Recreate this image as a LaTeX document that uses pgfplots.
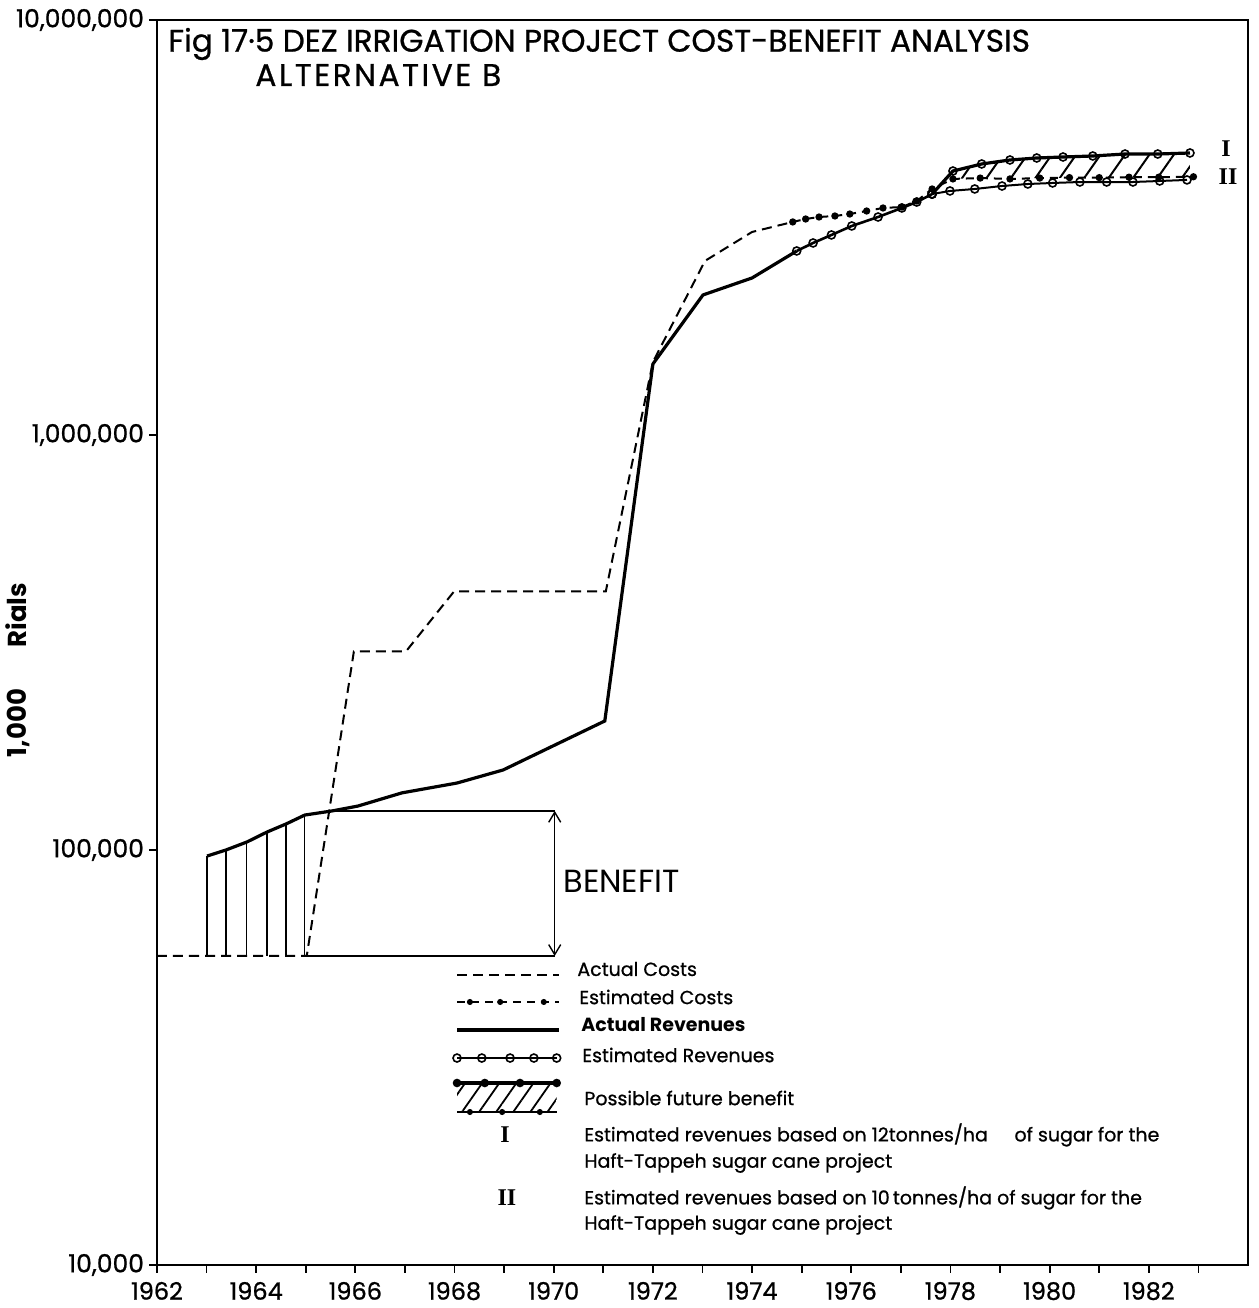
\documentclass[border=0pt]{standalone}
\usepackage{pgfplots}
\pgfplotsset{compat=1.18}
\usepgfplotslibrary{fillbetween}
\usetikzlibrary{patterns.meta,arrows.meta}
\usepackage{fontspec}
\setmainfont{Poppins}
\newfontface\medium{Poppins}[FakeBold=0.8]
\newfontfamily\serifrm{Liberation Serif}
\begin{document}
\begin{tikzpicture}
\begin{axis}[
  scale only axis, width=545.5pt, height=622.5pt,
  xmin=1962, xmax=1984, ymode=log, ymin=1e4, ymax=1e7,
  axis line style={line width=1.3pt},
  xtick={1962,1964,...,1982},
  xticklabels={1962,1964,1966,1968,1970,1972,1974,1976,1978,1980,1982},
  minor xtick={1963,1965,...,1983},
  ytick={1e4,1e5,1e6,1e7},
  yticklabels={{10,000},{100,000},{1,000,000},{10,000,000}},
  yminorticks=false,
  tick align=outside, xtick pos=bottom, ytick pos=left,
  major tick length=4pt, minor tick length=4pt,
  tick style={line width=0.9pt, black},
  yticklabel style={font=\medium\fontsize{12.5}{14}\selectfont, xshift=1pt},
  xticklabel style={font=\medium\fontsize{12}{14}\selectfont, yshift=-1pt},
  clip=false,
]
% Actual costs
\addplot[black, line width=1pt, dash pattern=on 5pt off 3pt] coordinates {
 (1962,55550) (1965.02,55550) (1965.97,300900) (1967.02,300900) (1967.99,419800)
 (1971.05,419800) (1972.0,1499000) (1973.05,2627000) (1974.0,3085000) (1974.82,3261000)};
% Estimated costs
\addplot[black, line width=1pt, dash pattern=on 4pt off 3pt, mark=*, mark size=1.3pt, mark options={solid}] coordinates {
 (1974.82,3261000) (1975.08,3315000) (1975.35,3352000) (1975.67,3371000) (1975.97,3408000)
 (1976.31,3465000) (1976.64,3524000) (1977.02,3543000) (1977.32,3663000) (1977.63,3916000)
 (1978.05,4140000) (1978.6,4160000) (1979.2,4140000) (1979.8,4160000) (1980.4,4170000)
 (1981.0,4170000) (1981.6,4180000) (1982.2,4180000) (1982.9,4190000)};
% Actual revenues
\addplot[black, line width=1.6pt] coordinates {
 (1963.01,96700) (1963.39,100000) (1963.81,104500) (1964.22,110500) (1964.60,115500)
 (1964.98,121400) (1965.53,124200) (1966.05,127600) (1966.94,137300) (1968.05,145000)
 (1968.98,155900) (1971.03,204600) (1972.0,1483000) (1973.01,2175000) (1974.0,2390000)
 (1974.9,2776000)};
% Possible future benefit (hatched region between revenues I and estimated costs)
\addplot[draw=none, name path=hA] coordinates {
 (1977.85,4060000) (1978.05,4326000) (1978.63,4498000) (1979.2,4599000) (1979.74,4650000)
 (1980.27,4676000) (1980.87,4702000) (1981.52,4754000) (1982.18,4754000) (1982.83,4781000)};
\addplot[draw=none, name path=hB] coordinates {
 (1977.85,4060000) (1978.05,4140000) (1978.6,4160000) (1979.2,4140000) (1979.8,4160000)
 (1980.4,4170000) (1981.0,4170000) (1981.6,4180000) (1982.2,4180000) (1982.83,4190000)};
\addplot[pattern={Lines[angle=55,distance=10pt,line width=1pt]}, draw=none] fill between[of=hA and hB];
% Estimated revenues (common part)
\addplot[black, line width=1.3pt, mark=o, mark size=2pt, mark options={fill=white, line width=0.8pt}] coordinates {
 (1974.9,2776000) (1975.23,2902000) (1975.6,3034000) (1976.01,3189000) (1976.54,3352000)
 (1977.02,3524000) (1977.32,3642000) (1977.63,3807000)};
% Estimated revenues I
\addplot[black, line width=1.6pt, mark=o, mark size=2pt, mark options={fill=white, line width=0.8pt}] coordinates {
 (1977.63,3807000) (1978.05,4326000) (1978.63,4498000) (1979.2,4599000) (1979.74,4650000)
 (1980.27,4676000) (1980.87,4702000) (1981.52,4754000) (1982.18,4754000) (1982.83,4781000)};
% Estimated revenues II
\addplot[black, line width=1pt, mark=o, mark size=2pt, mark options={fill=white, line width=0.8pt}] coordinates {
 (1977.63,3807000) (1977.99,3873000) (1978.49,3916000) (1979.04,3981000) (1979.56,4025000)
 (1980.06,4048000) (1980.61,4070000) (1981.15,4070000) (1981.68,4070000) (1982.22,4093000)
 (1982.77,4117000)};
% benefit verticals
\addplot[black, line width=0.6pt] coordinates {(1963.01,55550) (1963.01,96700)};
\addplot[black, line width=0.6pt] coordinates {(1963.39,55550) (1963.39,100000)};
\addplot[black, line width=0.6pt] coordinates {(1963.81,55550) (1963.81,104500)};
\addplot[black, line width=0.6pt] coordinates {(1964.22,55550) (1964.22,110500)};
\addplot[black, line width=0.6pt] coordinates {(1964.60,55550) (1964.60,115500)};
\addplot[black, line width=0.6pt] coordinates {(1964.98,55550) (1964.98,121400)};
% benefit bracket
\addplot[black, line width=0.7pt] coordinates {(1965.53,124200) (1970.02,124200)};
\addplot[black, line width=0.7pt] coordinates {(1965.02,55550) (1970.02,55550)};
\addplot[black, line width=0.7pt, {Straight Barb[length=5pt,width=6pt]}-{Straight Barb[length=5pt,width=6pt]}] coordinates {(1970.02,55550) (1970.02,124200)};
% legend samples
\addplot[black, line width=1pt, dash pattern=on 5pt off 3pt] coordinates {(1968.05,49960) (1970.10,49960)};
\addplot[black, line width=1pt, dash pattern=on 4pt off 3pt] coordinates {(1968.05,43030) (1970.10,43030)};
\addplot[black, only marks, mark=*, mark size=1.3pt] coordinates {(1968.31,43030) (1968.92,43030) (1969.80,43030)};
\addplot[black, line width=1.6pt] coordinates {(1968.05,36840) (1970.10,36840)};
\addplot[black, line width=1.3pt, mark=o, mark size=2pt, mark options={fill=white, line width=0.8pt}] coordinates {(1968.05,31530) (1968.55,31530) (1969.12,31530) (1969.60,31530) (1970.06,31530)};
\addplot[black, line width=1.6pt, mark=*, mark size=1.3pt, name path=lgtop] coordinates {(1968.05,27450) (1968.61,27450) (1969.32,27450) (1970.06,27450)};
\addplot[black, line width=1pt, name path=lgbot] coordinates {(1968.05,23370) (1970.06,23370)};
\addplot[black, only marks, mark=*, mark size=1.3pt] coordinates {(1968.31,23370) (1968.96,23370) (1969.72,23370)};
\addplot[pattern={Lines[angle=55,distance=7pt,line width=0.9pt]}, draw=none] fill between[of=lgtop and lgbot];
\end{axis}
% texts
\newcommand{\T}[3]{\node[anchor=west, inner sep=0pt] at ([xshift=#1pt,yshift=#2pt]current axis.south west) {#3};}
\node[anchor=west, inner sep=0pt, font=\medium\fontsize{15.6}{18}\selectfont] at ([xshift=5.5pt,yshift=610.5pt]current axis.south west) {Fig 17·5 DEZ IRRIGATION PROJECT COST-BENEFIT ANALYSIS};
\node[anchor=west, inner sep=0pt, font=\medium\fontsize{15.6}{18}\selectfont\addfontfeatures{LetterSpace=8}] at ([xshift=49pt,yshift=595pt]current axis.south west) {ALTERNATIVE B};
\node[rotate=90, inner sep=0pt, font=\fontsize{13}{15}\selectfont] at ([xshift=-69.5pt,yshift=297.5pt]current axis.south west) {\textbf{1,000\hspace{1.6em}Rials}};
\node[anchor=west, inner sep=0pt, font=\fontsize{16}{18}\selectfont] at ([xshift=203pt,yshift=192pt]current axis.south west) {BENEFIT};
\begin{scope}[font=\medium\fontsize{9.5}{11}\selectfont]
\T{210}{148}{Actual Costs}
\T{211}{134}{Estimated Costs}
\T{212}{120}{\normalfont\fontsize{9.5}{11}\selectfont\bfseries Actual Revenues}
\T{212.5}{105}{Estimated Revenues}
\T{213.5}{83.5}{Possible future benefit}
\T{213.5}{65}{Estimated revenues based on 12tonnes/ha\hspace{1.4em}of sugar for the}
\T{213.5}{51}{Haft-Tappeh sugar cane project}
\T{213.5}{33.5}{Estimated revenues based on 10\,tonnes/ha of sugar for the}
\T{213.5}{20}{Haft-Tappeh sugar cane project}
\end{scope}
\node[inner sep=0pt, font=\serifrm\bfseries\fontsize{12}{14}\selectfont] at ([xshift=174pt,yshift=65pt]current axis.south west) {I};
\node[inner sep=0pt, font=\serifrm\bfseries\fontsize{12}{14}\selectfont] at ([xshift=175pt,yshift=33.5pt]current axis.south west) {II};
\node[inner sep=0pt, font=\serifrm\bfseries\fontsize{12}{14}\selectfont] at ([xshift=534.5pt,yshift=558pt]current axis.south west) {I};
\node[inner sep=0pt, font=\serifrm\bfseries\fontsize{12}{14}\selectfont] at ([xshift=535.5pt,yshift=544pt]current axis.south west) {II};
\pgfresetboundingbox
\path ([xshift=-78.5pt,yshift=-21.5pt]current axis.south west) rectangle ([xshift=5.5pt,yshift=10pt]current axis.north east);
\end{tikzpicture}
\end{document}
